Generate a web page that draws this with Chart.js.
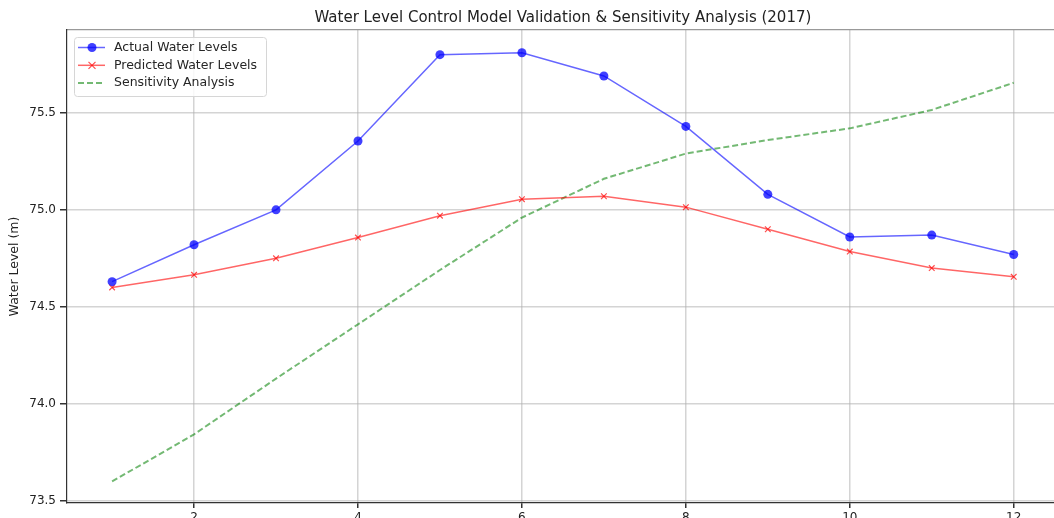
<!DOCTYPE html>
<html>
<head>
<meta charset="utf-8">
<script src="https://cdn.jsdelivr.net/npm/chart.js@4/dist/chart.umd.min.js"></script>
<style>
  html, body { margin: 0; padding: 0; overflow: hidden; background: #fff; }
  #wrap { width: 1064px; height: 530px; }
</style>
</head>
<body>
<div id="wrap"><canvas id="chart" width="1064" height="530"></canvas></div>
<script>
const months = [1, 2, 3, 4, 5, 6, 7, 8, 9, 10, 11, 12];
const actualLevels = [74.63, 74.82, 75.00, 75.355, 75.80, 75.81, 75.69, 75.43, 75.08, 74.86, 74.87, 74.77];
const predictedLevels = [74.60, 74.665, 74.75, 74.857, 74.97, 75.055, 75.07, 75.014, 74.90, 74.785, 74.70, 74.655];
const sensitivityLevels = [73.60, 73.843, 74.13, 74.41, 74.69, 74.96, 75.16, 75.29, 75.36, 75.42, 75.515, 75.655];
const xTicks = [2, 4, 6, 8, 10, 12];
const yTicks = [73.5, 74.0, 74.5, 75.0, 75.5];
const chartTitle = 'Water Level Control Model Validation & Sensitivity Analysis (2017)';

const FONT = 'DejaVu Sans';

function toPoints(values) {
    return months.map((m, i) => ({ x: m, y: values[i] }));
}

// title centred over the plot area (matplotlib style), not over the canvas
const plotTitle = {
    id: 'plotTitle',
    afterDraw(chart) {
        const ctx = chart.ctx;
        const area = chart.chartArea;
        ctx.save();
        ctx.font = '15px "' + FONT + '"';
        ctx.fillStyle = '#222';
        ctx.textAlign = 'center';
        ctx.textBaseline = 'middle';
        ctx.fillText(chartTitle, (area.left + area.right) / 2, 18);
        ctx.restore();
    }
};

// legend drawn inside the plot, upper left
const innerLegend = {
    id: 'innerLegend',
    afterDraw(chart) {
        const ctx = chart.ctx;
        const area = chart.chartArea;
        const x0 = area.left + 7, y0 = area.top + 7;
        const w = 192, h = 59;
        ctx.save();
        ctx.fillStyle = 'rgba(255,255,255,0.85)';
        ctx.strokeStyle = '#d6d6d6';
        ctx.lineWidth = 1;
        ctx.beginPath();
        ctx.roundRect(x0 + 0.5, y0 + 0.5, w, h, 3);
        ctx.fill();
        ctx.stroke();
        ctx.font = '12.5px "' + FONT + '"';
        ctx.textBaseline = 'middle';
        chart.data.datasets.forEach((ds, i) => {
            const y = y0 + 10.5 + i * 17.8;
            ctx.strokeStyle = ds.borderColor;
            ctx.lineWidth = ds.borderWidth;
            ctx.setLineDash(ds.borderDash || []);
            ctx.beginPath();
            ctx.moveTo(x0 + 4, y);
            ctx.lineTo(x0 + 31, y);
            ctx.stroke();
            ctx.setLineDash([]);
            if (ds.pointRadius > 0) {
                if (ds.pointStyle === 'crossRot') {
                    ctx.strokeStyle = ds.pointBorderColor;
                    ctx.lineWidth = 1.2;
                    ctx.beginPath();
                    ctx.moveTo(x0 + 14.5, y - 3.5); ctx.lineTo(x0 + 21.5, y + 3.5);
                    ctx.moveTo(x0 + 21.5, y - 3.5); ctx.lineTo(x0 + 14.5, y + 3.5);
                    ctx.stroke();
                } else {
                    ctx.fillStyle = ds.pointBackgroundColor;
                    ctx.beginPath();
                    ctx.arc(x0 + 18, y, 4.5, 0, Math.PI * 2);
                    ctx.fill();
                }
            }
            ctx.fillStyle = '#262626';
            ctx.fillText(ds.label, x0 + 40, y);
        });
        ctx.restore();
    }
};

const ctx = document.getElementById('chart');

new Chart(ctx, {
    type: 'line',
    data: {
        datasets: [
            {
                label: 'Actual Water Levels',
                data: toPoints(actualLevels),
                borderColor: 'rgba(0,0,255,0.6)',
                borderWidth: 1.5,
                pointStyle: 'circle',
                pointRadius: 4.5,
                pointBackgroundColor: 'rgba(0,0,255,0.75)',
                pointBorderColor: 'rgba(0,0,255,0.75)',
                pointBorderWidth: 0,
                tension: 0
            },
            {
                label: 'Predicted Water Levels',
                data: toPoints(predictedLevels),
                borderColor: 'rgba(255,0,0,0.6)',
                borderWidth: 1.5,
                pointStyle: 'crossRot',
                pointRadius: 4,
                pointBackgroundColor: 'rgba(255,0,0,0.7)',
                pointBorderColor: 'rgba(255,0,0,0.7)',
                pointBorderWidth: 1.2,
                tension: 0
            },
            {
                label: 'Sensitivity Analysis',
                data: toPoints(sensitivityLevels),
                borderColor: 'rgba(0,128,0,0.55)',
                borderWidth: 2,
                borderDash: [6, 3],
                pointRadius: 0,
                tension: 0
            }
        ]
    },
    options: {
        responsive: false,
        animation: false,
        devicePixelRatio: 1,
        layout: { padding: { left: 0, right: 0, top: 30, bottom: 0 } },
        plugins: {
            legend: { display: false },
            tooltip: { enabled: false },
            title: { display: false }
        },
        scales: {
            x: {
                type: 'linear',
                position: 'bottom',
                min: 0.45,
                max: 12.55,
                afterBuildTicks: (scale) => { scale.ticks = xTicks.map(v => ({ value: v })); },
                afterFit: (scale) => { scale.height = 27; },
                ticks: {
                    color: '#222',
                    font: { family: FONT, size: 12 },
                    padding: 3,
                    maxRotation: 0,
                    callback: (v) => String(v)
                },
                grid: {
                    color: 'rgba(176,176,176,0.55)',
                    lineWidth: 1.5,
                    tickColor: '#333',
                    tickLength: 5
                },
                border: { color: '#333', width: 1.2 }
            },
            x2: {
                type: 'linear',
                position: 'top',
                min: 0.45,
                max: 12.55,
                afterFit: (scale) => { scale.height = 0; },
                ticks: { display: false },
                grid: { display: false, drawTicks: false },
                border: { display: true, color: '#999', width: 1.2 }
            },
            y: {
                min: 73.489,
                max: 75.927,
                afterBuildTicks: (scale) => { scale.ticks = yTicks.map(v => ({ value: v })); },
                afterFit: (scale) => { scale.width = 67; },
                ticks: {
                    color: '#222',
                    font: { family: FONT, size: 12 },
                    padding: 4,
                    callback: (v) => Number(v).toFixed(1)
                },
                grid: {
                    color: 'rgba(176,176,176,0.55)',
                    lineWidth: 1.5,
                    tickColor: '#333',
                    tickLength: 7
                },
                border: { color: '#333', width: 1.2 },
                title: {
                    display: true,
                    text: 'Water Level (m)',
                    color: '#222',
                    font: { family: FONT, size: 12.5 },
                    padding: { top: 7, bottom: 0 }
                }
            }
        }
    },
    plugins: [innerLegend, plotTitle]
});
</script>
</body>
</html>
